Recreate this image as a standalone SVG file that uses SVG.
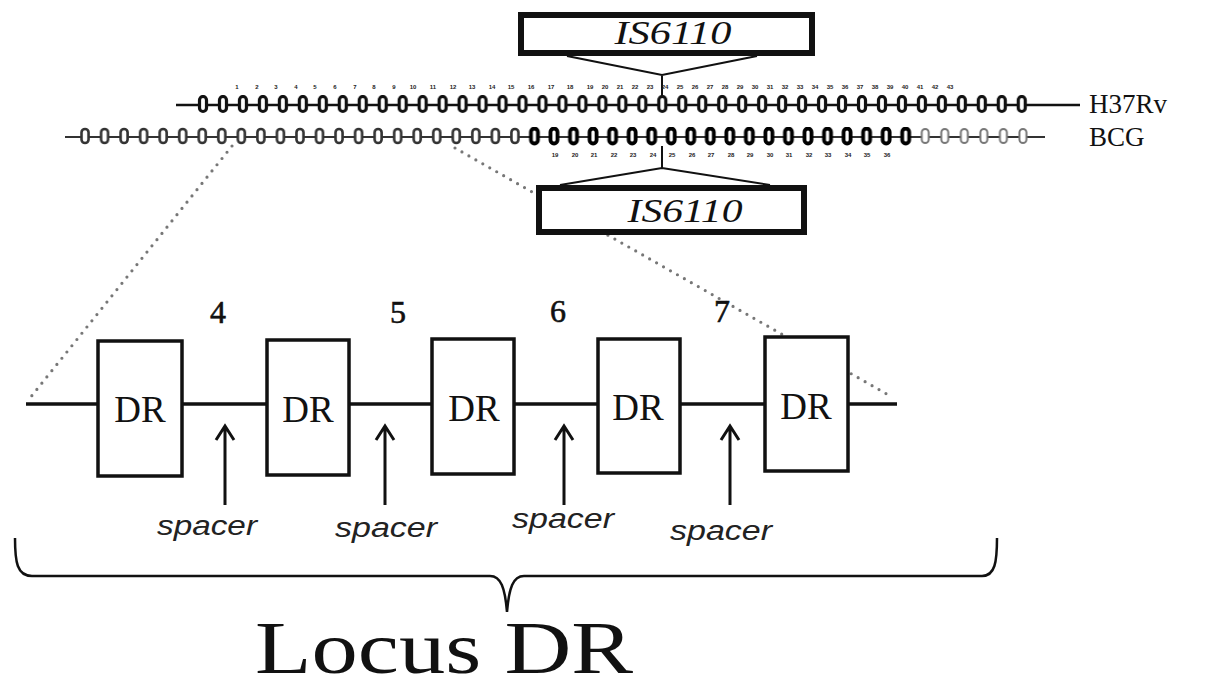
<svg xmlns="http://www.w3.org/2000/svg" width="1212" height="691" viewBox="0 0 1212 691">
<style>
.serif{font-family:"Liberation Serif","Times New Roman",serif;fill:#111}
.num{font-family:"Liberation Sans",Arial,sans-serif;font-size:6px;font-weight:bold;fill:#222;text-anchor:middle}
.ln{stroke:#111;fill:none}
.dot{stroke:#777;stroke-width:3.2;stroke-linecap:round;stroke-dasharray:0 8;fill:none}
.box{fill:#fff;stroke:#111}
.sp{font-family:"Liberation Sans",Arial,sans-serif;font-style:italic;font-size:27px;fill:#222;text-anchor:middle}
</style>
<defs>
<pattern id="ovM" patternUnits="userSpaceOnUse" x="193" y="95" width="19.97" height="20">
<rect x="6.5" y="1.5" width="7" height="15" rx="3.5" fill="#fff" stroke="#111" stroke-width="3.2"/>
</pattern>
<pattern id="ovB1" patternUnits="userSpaceOnUse" x="75.23" y="127" width="19.54" height="20">
<rect x="6.3" y="2" width="7" height="14" rx="3.5" fill="#fff" stroke="#333" stroke-width="2.6"/>
</pattern>
<pattern id="ovB2" patternUnits="userSpaceOnUse" x="75.23" y="127" width="19.54" height="20">
<rect x="6.3" y="1.5" width="7" height="15" rx="3.5" fill="#fff" stroke="#000" stroke-width="3.8"/>
</pattern>
<pattern id="ovB3" patternUnits="userSpaceOnUse" x="75.23" y="127" width="19.54" height="20">
<rect x="6.3" y="2" width="7" height="14" rx="3.5" fill="#fff" stroke="#777" stroke-width="2"/>
</pattern>
</defs>
<rect width="1212" height="691" fill="#fff"/>

<g id="connectors">
<path class="dot" d="M232,146 L30,398"/>
<path class="dot" d="M455,148 L892,397"/>
<path class="ln" stroke-width="2" d="M567,56 L662,75 L757,56 M662,75 L662,97"/>
<path class="ln" stroke-width="2" d="M560,185 L662,168 L770,185 M662,168 L662,146"/>
<g class="ln" stroke-width="3">
<path d="M225,505 L225,427 M216,440 L225,426 L234,440"/>
<path d="M385,505 L385,427 M376,440 L385,426 L394,440"/>
<path d="M564,505 L564,427 M555,440 L564,426 L573,440"/>
<path d="M730,505 L730,427 M721,440 L730,426 L739,440"/>
</g>
<path class="ln" stroke-width="2.5" d="M15,538 C15,562 17,576 32,576 L490,576 C501,576 505,588 507,612 C509,588 513,576 524,576 L982,576 C995,576 997,562 997,538"/>
</g>

<g id="h37rv">
<line x1="176" y1="105" x2="1080" y2="105" stroke="#111" stroke-width="2.5"/>
<rect x="193" y="95" width="838.7" height="20" fill="url(#ovM)"/>
<text class="serif" x="1089" y="113" font-size="27">H37Rv</text>
<g class="num">
<text x="237" y="89">1</text><text x="257" y="89">2</text><text x="276" y="89">3</text><text x="296" y="89">4</text><text x="315" y="89">5</text><text x="335" y="89">6</text><text x="355" y="89">7</text><text x="374" y="89">8</text><text x="394" y="89">9</text><text x="413" y="89">10</text><text x="433" y="89">11</text><text x="453" y="89">12</text><text x="472" y="89">13</text><text x="492" y="89">14</text><text x="511" y="89">15</text><text x="531" y="89">16</text><text x="551" y="89">17</text><text x="570" y="89">18</text><text x="590" y="89">19</text><text x="605" y="89">20</text><text x="620" y="89">21</text><text x="635" y="89">22</text><text x="650" y="89">23</text><text x="665" y="89">24</text><text x="680" y="89">25</text><text x="695" y="89">26</text><text x="710" y="89">27</text><text x="725" y="89">28</text><text x="740" y="89">29</text><text x="755" y="89">30</text><text x="770" y="89">31</text><text x="785" y="89">32</text><text x="800" y="89">33</text><text x="815" y="89">34</text><text x="830" y="89">35</text><text x="845" y="89">36</text><text x="860" y="89">37</text><text x="875" y="89">38</text><text x="890" y="89">39</text><text x="905" y="89">40</text><text x="920" y="89">41</text><text x="935" y="89">42</text><text x="950" y="89">43</text>
</g>
</g>

<g id="bcg">
<line x1="65" y1="137" x2="1045" y2="137" stroke="#333" stroke-width="2"/>
<rect x="75.23" y="127" width="449.42" height="20" fill="url(#ovB1)"/>
<rect x="524.65" y="127" width="390.8" height="20" fill="url(#ovB2)"/>
<rect x="915.45" y="127" width="117.24" height="20" fill="url(#ovB3)"/>
<text class="serif" x="1089" y="146" font-size="27">BCG</text>
<g class="num">
<text x="555" y="157">19</text><text x="575" y="157">20</text><text x="594" y="157">21</text><text x="614" y="157">22</text><text x="633" y="157">23</text><text x="653" y="157">24</text><text x="672" y="157">25</text><text x="692" y="157">26</text><text x="711" y="157">27</text><text x="731" y="157">28</text><text x="750" y="157">29</text><text x="770" y="157">30</text><text x="789" y="157">31</text><text x="809" y="157">32</text><text x="828" y="157">33</text><text x="848" y="157">34</text><text x="867" y="157">35</text><text x="887" y="157">36</text>
</g>
</g>

<g id="is6110-top">
<rect class="box" x="521" y="15" width="291" height="38" stroke-width="6"/>
<text class="serif" x="673" y="44" font-size="34" font-style="italic" text-anchor="middle" textLength="117" lengthAdjust="spacingAndGlyphs">IS6110</text>
</g>
<g id="is6110-bottom">
<rect class="box" x="539" y="188" width="265" height="44" stroke-width="6"/>
<text class="serif" x="685" y="222" font-size="34" font-style="italic" text-anchor="middle" textLength="115" lengthAdjust="spacingAndGlyphs">IS6110</text>
</g>

<g id="dr-locus">
<line x1="26" y1="404" x2="897" y2="404" stroke="#111" stroke-width="3.5"/>
<g id="dr1"><rect class="box" x="98" y="341" width="84" height="135" stroke-width="3.5"/><text class="serif" x="140" y="422" font-size="37" text-anchor="middle">DR</text></g>
<g id="dr2"><rect class="box" x="267" y="340" width="82" height="135" stroke-width="3.5"/><text class="serif" x="308" y="422" font-size="37" text-anchor="middle">DR</text></g>
<g id="dr3"><rect class="box" x="432" y="339" width="82" height="135" stroke-width="3.5"/><text class="serif" x="474" y="421" font-size="37" text-anchor="middle">DR</text></g>
<g id="dr4"><rect class="box" x="598" y="339" width="82" height="134" stroke-width="3.5"/><text class="serif" x="638" y="420" font-size="37" text-anchor="middle">DR</text></g>
<g id="dr5"><rect class="box" x="765" y="337" width="83" height="134" stroke-width="3.5"/><text class="serif" x="806" y="419" font-size="37" text-anchor="middle">DR</text></g>
<g font-family="Liberation Serif, serif" font-size="32" fill="#111" stroke="#111" stroke-width="0.6" text-anchor="middle">
<text x="218" y="323">4</text>
<text x="398" y="323">5</text>
<text x="558" y="322">6</text>
<text x="722" y="322">7</text>
</g>
</g>

<g id="spacers">
<text class="sp" x="207" y="535" textLength="100" lengthAdjust="spacingAndGlyphs">spacer</text>
<text class="sp" x="386" y="537" textLength="102" lengthAdjust="spacingAndGlyphs">spacer</text>
<text class="sp" x="563" y="528" textLength="102" lengthAdjust="spacingAndGlyphs">spacer</text>
<text class="sp" x="721" y="540" textLength="102" lengthAdjust="spacingAndGlyphs">spacer</text>
</g>

<g id="locus-label">
<text class="serif" x="444" y="673" font-size="73" text-anchor="middle" textLength="378" lengthAdjust="spacingAndGlyphs">Locus DR</text>
</g>
</svg>
